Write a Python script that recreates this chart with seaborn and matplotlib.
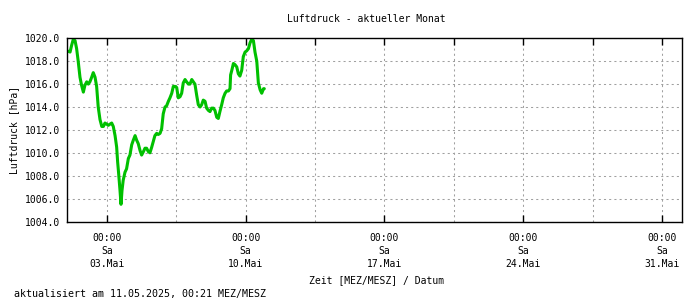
import matplotlib
matplotlib.use("Agg")
import matplotlib.pyplot as plt
import matplotlib.dates as mdates
from matplotlib.ticker import FixedLocator, FixedFormatter, MultipleLocator, FormatStrFormatter, NullFormatter
import seaborn as sns
import pandas as pd

# days since 01.05.2025 00:00
day_offset = [0.00, 0.14, 0.22, 0.30, 0.39, 0.47, 0.55, 0.64, 0.72, 0.81, 0.89, 0.98,
              1.06, 1.14, 1.23, 1.31, 1.40, 1.48, 1.56, 1.65, 1.74, 1.82, 1.90, 1.99,
              2.07, 2.15, 2.24, 2.32, 2.41, 2.49, 2.54, 2.59, 2.66, 2.71, 2.76, 2.82,
              2.91, 2.99, 3.08, 3.16, 3.25, 3.33, 3.42, 3.50, 3.58, 3.67, 3.75, 3.84,
              3.92, 4.00, 4.09, 4.17, 4.26, 4.34, 4.42, 4.51, 4.59, 4.68, 4.76, 4.84,
              4.93, 5.01, 5.10, 5.18, 5.27, 5.35, 5.44, 5.52, 5.60, 5.69, 5.77, 5.85,
              5.94, 6.02, 6.11, 6.19, 6.28, 6.36, 6.44, 6.53, 6.61, 6.70, 6.78, 6.86,
              6.95, 7.03, 7.12, 7.20, 7.28, 7.37, 7.45, 7.54, 7.62, 7.70, 7.79, 7.87,
              7.96, 8.04, 8.13, 8.21, 8.24, 8.30, 8.38, 8.46, 8.55, 8.63, 8.71, 8.80,
              8.88, 8.97, 9.05, 9.14, 9.22, 9.30, 9.39, 9.47, 9.56, 9.64, 9.73, 9.81,
              9.90, 9.94]
pressure = [1018.9, 1018.8, 1019.4, 1019.9, 1019.8, 1019.1, 1018.0, 1016.6, 1015.9, 1015.3, 1015.9, 1016.2,
            1016.0, 1016.2, 1016.6, 1017.0, 1016.6, 1015.8, 1014.0, 1012.9, 1012.3, 1012.3, 1012.6, 1012.5,
            1012.4, 1012.5, 1012.6, 1012.3, 1011.5, 1010.5, 1009.2, 1008.2, 1006.7, 1005.5, 1006.7, 1007.6,
            1008.3, 1008.6, 1009.5, 1009.8, 1010.7, 1011.1, 1011.5, 1011.1, 1010.8, 1010.2, 1009.8, 1010.1,
            1010.4, 1010.4, 1010.1, 1010.0, 1010.5, 1011.0, 1011.5, 1011.7, 1011.6, 1011.7, 1012.1, 1013.4,
            1014.0, 1014.1, 1014.5, 1014.8, 1015.2, 1015.8, 1015.8, 1015.7, 1014.8, 1014.9, 1015.2, 1016.1,
            1016.4, 1016.2, 1016.0, 1016.0, 1016.4, 1016.2, 1016.0, 1015.0, 1014.2, 1014.0, 1014.2, 1014.6,
            1014.5, 1013.9, 1013.7, 1013.6, 1013.9, 1013.9, 1013.7, 1013.1, 1013.0, 1013.6, 1014.2, 1014.8,
            1015.2, 1015.4, 1015.4, 1015.6, 1016.8, 1017.2, 1017.8, 1017.7, 1017.5, 1016.9, 1016.7, 1017.2,
            1018.4, 1018.8, 1018.9, 1019.1, 1019.6, 1019.9, 1019.8, 1018.8, 1018.0, 1016.1, 1015.5, 1015.2,
            1015.6, 1015.6]

tick_dates = ["2025-05-03", "2025-05-10", "2025-05-17", "2025-05-24", "2025-05-31"]
tick_labels = ["00:00\nSa\n03.Mai", "00:00\nSa\n10.Mai", "00:00\nSa\n17.Mai",
               "00:00\nSa\n24.Mai", "00:00\nSa\n31.Mai"]
minor_dates = ["2025-05-06 12:00", "2025-05-13 12:00", "2025-05-20 12:00", "2025-05-27 12:00"]
x_start, x_end = "2025-05-01", "2025-06-01"
y_min, y_max, y_step = 1004.0, 1020.0, 2.0

title = "Luftdruck - aktueller Monat"
ylabel = "Luftdruck [hPa]"
xlabel = "Zeit [MEZ/MESZ] / Datum"
footer = "aktualisiert am 11.05.2025, 00:21 MEZ/MESZ"

sns.set_theme(style="white")
plt.rcParams["font.family"] = ["DejaVu Sans Mono", "DejaVu Sans"]
plt.rcParams["font.size"] = 7

df = pd.DataFrame({
    "time": pd.Timestamp(x_start) + pd.to_timedelta(day_offset, unit="D"),
    "pressure": pressure,
})

fig = plt.figure(figsize=(7, 3), dpi=100)
ax = fig.add_axes([67.3 / 700, 1 - 221.5 / 300, (681.7 - 67.3) / 700, (221.5 - 38.3) / 300])

sns.lineplot(data=df, x="time", y="pressure", ax=ax, color="#00c000", linewidth=2.2)

ax.set_xlim(pd.Timestamp(x_start), pd.Timestamp(x_end))
ax.set_ylim(y_min, y_max)

major = [mdates.date2num(pd.Timestamp(d)) for d in tick_dates]
minor = [mdates.date2num(pd.Timestamp(d)) for d in minor_dates]
ax.xaxis.set_major_locator(FixedLocator(major))
ax.xaxis.set_major_formatter(FixedFormatter(tick_labels))
ax.xaxis.set_minor_locator(FixedLocator(minor))
ax.xaxis.set_minor_formatter(NullFormatter())
ax.yaxis.set_major_locator(MultipleLocator(y_step))
ax.yaxis.set_major_formatter(FormatStrFormatter("%.1f"))

ax.tick_params(axis="x", which="major", direction="in", length=5, width=1, color="black",
               top=True, bottom=True, pad=8, labelsize=7, labelcolor="black")
ax.tick_params(axis="x", which="minor", direction="in", length=5, width=1, color="black",
               top=True, bottom=False)
ax.tick_params(axis="y", which="major", length=0, pad=5, labelsize=7, labelcolor="black")
for lbl in ax.get_xticklabels():
    lbl.set_linespacing(1.4)

grid_style = dict(color="#a0a0a0", linestyle=(0, (2, 3)), linewidth=0.75)
ax.grid(True, which="both", axis="x", **grid_style)
ax.grid(True, which="major", axis="y", **grid_style)
ax.set_axisbelow(True)
for s in ax.spines.values():
    s.set_visible(True)
    s.set_color("black")
    s.set_linewidth(1.0)

ax.set_xlabel("")
ax.set_ylabel(ylabel, fontsize=7, color="black", labelpad=4)
fig.text(366 / 700, 1 - 19 / 300, title, ha="center", va="center", fontsize=7, color="black")
fig.text(377 / 700, 1 - 280 / 300, xlabel, ha="center", va="center", fontsize=7, color="black")
fig.text(14 / 700, 1 - 294 / 300, footer, ha="left", va="center", fontsize=7.2, color="black")

fig.savefig("out.png", dpi=100, facecolor="white")
